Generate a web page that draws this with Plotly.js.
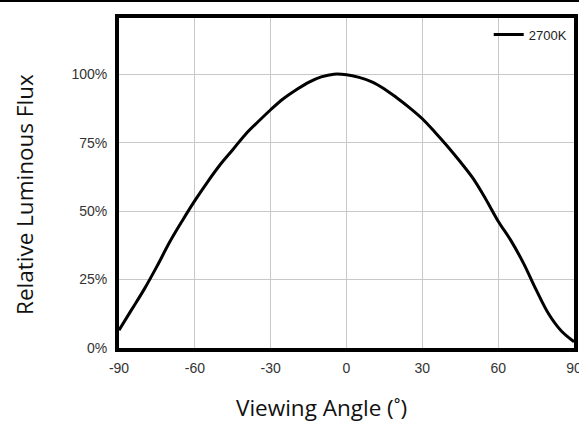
<!DOCTYPE html>
<html>
<head>
<meta charset="utf-8">
<script src="https://cdn.plot.ly/plotly-3.0.1.min.js"></script>
<style>
  html, body { margin: 0; padding: 0; background: #fff; overflow: hidden; }
  #topbar { position: absolute; left: 0; top: 0; width: 579px; height: 2px; background: #000; z-index: 2; }
  #chart { width: 579px; height: 423px; }
</style>
</head>
<body>
<div id="topbar"></div>
<div id="chart"></div>
<script>
// Viewing angle in degrees and relative luminous flux in percent
const angles = [-90, -85, -80, -75, -70, -65, -60, -55, -50, -45, -40, -35, -30, -25, -20, -15, -10, -5,
                0, 5, 10, 15, 20, 25, 30, 35, 40, 45, 50, 55, 60, 65, 70, 75, 80, 85, 90];
const flux2700K = [6.5, 14, 21.5, 29.8, 38.6, 46.4, 53.8, 60.6, 66.9, 72.4, 78, 82.6, 87, 91, 94.2, 97, 99, 100,
                   99.8, 98.8, 97.2, 94.6, 91.3, 87.7, 83.7, 78.8, 73.6, 68, 62, 54.5, 46.3, 39.3, 31, 21.3, 12.4, 6.2, 2.3];
const seriesName = '2700K';
const xTicks = [-90, -60, -30, 0, 30, 60, 90];
const xTickText = ['-90', '-60', '-30', '0', '30', '60', '90'];
const yTicks = [0, 25, 50, 75, 100];
const yTickText = ['0%', '25%', '50%', '75%', '100%'];

const tickFont = { family: '"Liberation Sans Narrow", "Arial Narrow", "Liberation Sans", Arial, sans-serif', size: 14, color: '#333' };
const legendFont = { family: '"Liberation Sans Narrow", "Arial Narrow", "Liberation Sans", Arial, sans-serif', size: 13, color: '#222' };
const titleFont = { family: '"Open Sans", "Noto Sans", sans-serif', size: 22.5, color: '#111' };

const trace = {
  x: angles,
  y: flux2700K,
  name: seriesName,
  type: 'scatter',
  mode: 'lines',
  line: { color: '#000', width: 3, shape: 'spline', smoothing: 1 },
  showlegend: true
};

const layout = {
  width: 579,
  height: 423,
  margin: { l: 119, r: 5, t: 18, b: 75 },
  paper_bgcolor: '#fff',
  plot_bgcolor: '#fff',
  showlegend: true,
  legend: {
    x: 0.995, y: 0.95, xanchor: 'right', yanchor: 'middle',
    bgcolor: 'rgba(0,0,0,0)', borderwidth: 0,
    font: legendFont, itemwidth: 30, tracegroupgap: 0
  },
  xaxis: {
    range: [-90, 90],
    tickvals: xTicks,
    ticktext: xTickText,
    ticks: '',
    tickfont: tickFont,
    ticklabeloverflow: 'allow',
    showgrid: true, gridcolor: '#c8c8c8', gridwidth: 1,
    zeroline: false,
    showline: true, linecolor: '#000', linewidth: 4, mirror: true,
    ticklabelstandoff: 4,
    fixedrange: true
  },
  yaxis: {
    range: [0, 120.5],
    tickvals: yTicks,
    ticktext: yTickText,
    ticks: '',
    tickfont: tickFont,
    showgrid: true, gridcolor: '#c8c8c8', gridwidth: 1,
    zeroline: false,
    showline: true, linecolor: '#000', linewidth: 4, mirror: true,
    ticklabelstandoff: 5,
    fixedrange: true
  },
  annotations: [
    {
      text: 'Viewing Angle (˚)', xref: 'paper', yref: 'paper',
      x: (321 - 119) / 455, y: -(407 - 348) / 330,
      xanchor: 'center', yanchor: 'middle', showarrow: false, font: titleFont
    },
    {
      text: 'Relative Luminous Flux', xref: 'paper', yref: 'paper',
      x: -(119 - 24) / 455, y: (348 - 195) / 330, textangle: -90,
      xanchor: 'center', yanchor: 'middle', showarrow: false, font: titleFont
    }
  ]
};

Plotly.newPlot('chart', [trace], layout, { displayModeBar: false, staticPlot: true });
</script>
</body>
</html>
